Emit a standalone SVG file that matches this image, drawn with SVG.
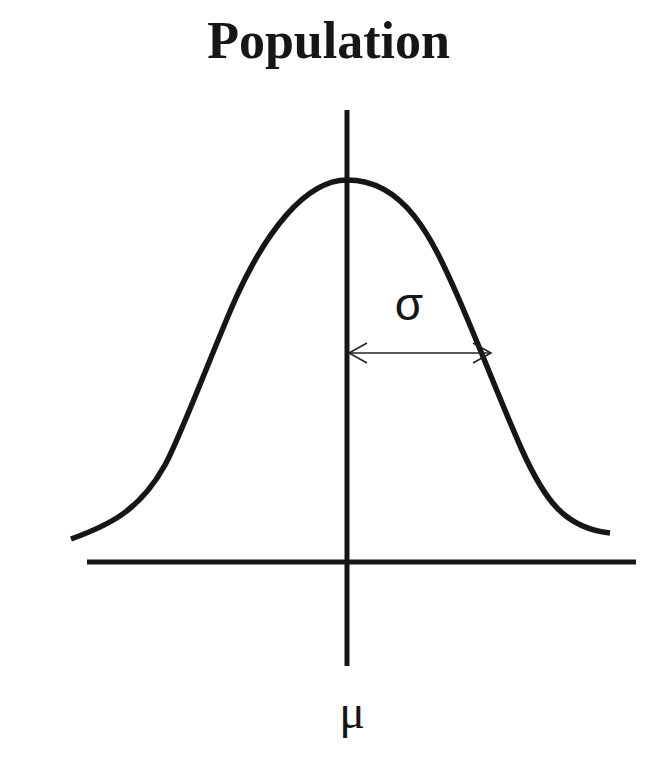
<svg xmlns="http://www.w3.org/2000/svg" width="668" height="764" viewBox="0 0 668 764">
<style>
.ax{stroke:#161616;stroke-width:5;fill:none}
.cv{stroke:#161616;stroke-width:5.5;fill:none;stroke-linecap:butt;stroke-linejoin:round}
.ar{stroke:#222;stroke-width:1.6;fill:none}
.title{font-family:"Liberation Serif","Times New Roman",serif;font-weight:bold;font-size:52px;fill:#161616}
.sym{font-family:"Liberation Sans",Arial,sans-serif;font-size:46px;fill:#161616}
.mu{font-family:"Liberation Serif","Times New Roman",serif;font-size:48px;fill:#161616}
</style>
<defs>
<marker id="head" viewBox="-20 -12 22 24" refX="0" refY="0" markerWidth="22" markerHeight="24" markerUnits="userSpaceOnUse" orient="auto-start-reverse">
<path d="M-18,-10 L0,0 L-18,10" fill="none" stroke="#222" stroke-width="1.6"/>
</marker>
</defs>
<rect width="668" height="764" fill="#fff"/>
<g id="title"><text class="title" x="328.5" y="58" text-anchor="middle">Population</text></g>
<g id="axes">
<line class="ax" x1="347" y1="110" x2="347" y2="666"/>
<line class="ax" x1="87" y1="562" x2="636" y2="562"/>
</g>
<g id="curve">
<path class="cv" d="M71,539 C110,525 140,510 165,465 C180,438 215,345 235,300 C265,233 305,180 347,180 C405,180 432,238 458,297 C479,345 504,410 522,450 C545,501 565,528 610,533"/>
</g>
<g id="connectors">
<line class="ar" x1="349" y1="353" x2="491" y2="353" marker-start="url(#head)" marker-end="url(#head)"/>
</g>
<g id="labels">
<text class="sym" x="409" y="320" text-anchor="middle">σ</text>
<text class="mu" x="352" y="728" text-anchor="middle">μ</text>
</g>
</svg>
